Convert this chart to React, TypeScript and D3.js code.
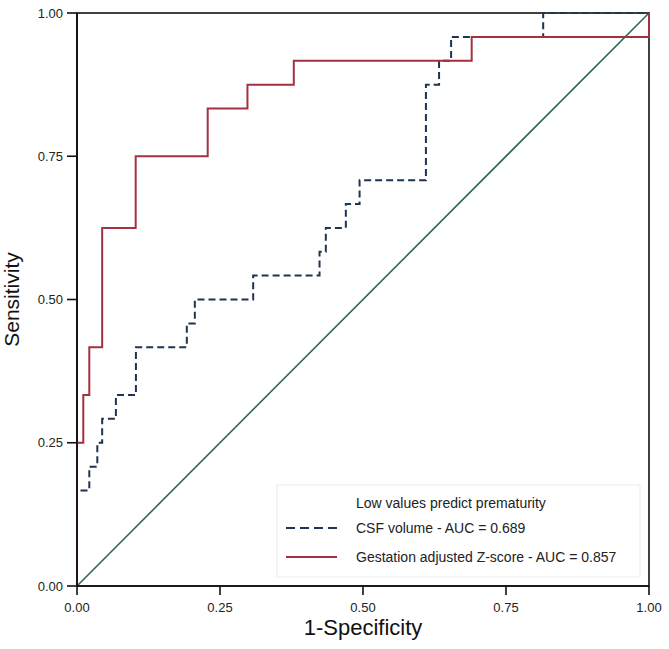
import React from "react";
import * as d3 from "d3";

const tickValues = [0, 0.25, 0.5, 0.75, 1];
const tickLabels = ["0.00", "0.25", "0.50", "0.75", "1.00"];

// ROC corner points (step-after): CSF volume
const csfFpr = [0, 0, 0.0215, 0.0355, 0.044, 0.068, 0.103, 0.192, 0.206, 0.308, 0.424, 0.435, 0.47, 0.494, 0.61, 0.633, 0.654, 0.815, 1];
const csfTpr = [0, 0.1667, 0.2083, 0.25, 0.2917, 0.3333, 0.4167, 0.4583, 0.5, 0.5417, 0.5833, 0.625, 0.6667, 0.7083, 0.875, 0.9167, 0.9583, 1, 1];

// Gestation adjusted Z-score
const gzFpr = [0, 0, 0.011, 0.0215, 0.044, 0.1026, 0.2285, 0.298, 0.379, 0.69, 1];
const gzTpr = [0, 0.25, 0.3333, 0.4167, 0.625, 0.75, 0.8333, 0.875, 0.9167, 0.9583, 1];

const legendTitle = "Low values predict prematurity";
const seriesNames = ["CSF volume - AUC = 0.689", "Gestation adjusted Z-score - AUC = 0.857"];

export default function App() {
  const W = 669, H = 649;
  const left = 77, right = 649, top = 13, bottom = 586;
  const x = d3.scaleLinear().domain([0, 1]).range([left, right]);
  const y = d3.scaleLinear().domain([0, 1]).range([bottom, top]);
  const line = d3
    .line<[number, number]>()
    .x((d) => x(d[0]))
    .y((d) => y(d[1]))
    .curve(d3.curveStepAfter);
  const csf: [number, number][] = csfFpr.map((v, i) => [v, csfTpr[i]]);
  const gz: [number, number][] = gzFpr.map((v, i) => [v, gzTpr[i]]);
  const font = "'Liberation Sans', Arial, sans-serif";
  const red = "#a3323e";
  const navy = "#1c3553";
  const green = "#2c6a4f";

  return (
    <svg width={W} height={H} style={{ position: "absolute", left: 0, top: 0, background: "#fff" }} fontFamily={font}>
      <rect x={0} y={0} width={W} height={H} fill="#fff" />
      {/* diagonal */}
      <line x1={x(0)} y1={y(0)} x2={x(1)} y2={y(1)} stroke={green} strokeWidth={1.6} />
      {/* frame */}
      <rect x={left} y={top} width={right - left} height={bottom - top} fill="none" stroke="#111" strokeWidth={1.6} />
      {/* curves */}
      <path d={line(csf) || ""} fill="none" stroke={navy} strokeWidth={2} strokeDasharray="7,4" />
      <path d={line(gz) || ""} fill="none" stroke={red} strokeWidth={2} />
      {/* left and bottom axis lines over curves */}
      <line x1={left} x2={left} y1={top} y2={bottom} stroke="#111" strokeWidth={1.8} />
      <line x1={left} x2={right} y1={bottom} y2={bottom} stroke="#111" strokeWidth={1.6} />
      {/* y ticks */}
      {tickValues.map((v, i) => (
        <g key={"y" + i}>
          <line x1={left - 10} x2={left} y1={y(v)} y2={y(v)} stroke="#111" strokeWidth={1.6} />
          <text x={left - 14} y={y(v)} dy="0.35em" textAnchor="end" fontSize={13} fill="#222">
            {tickLabels[i]}
          </text>
        </g>
      ))}
      {/* x ticks */}
      {tickValues.map((v, i) => (
        <g key={"x" + i}>
          <line x1={x(v)} x2={x(v)} y1={bottom} y2={bottom + 9} stroke="#111" strokeWidth={1.6} />
          <text x={x(v)} y={bottom + 26} textAnchor="middle" fontSize={13} fill="#222">
            {tickLabels[i]}
          </text>
        </g>
      ))}
      {/* axis titles */}
      <text x={(left + right) / 2} y={635} textAnchor="middle" fontSize={22} fill="#111">
        1-Specificity
      </text>
      <text transform={`translate(19, ${(top + bottom) / 2}) rotate(-90)`} textAnchor="middle" fontSize={21} fill="#111">
        Sensitivity
      </text>
      {/* legend */}
      <rect x={277} y={485} width={363} height={92} fill="#fff" stroke="#ececec" strokeWidth={1} />
      <text x={356} y={508} fontSize={14} fill="#222">{legendTitle}</text>
      <line x1={286} x2={337} y1={528} y2={528} stroke={navy} strokeWidth={2} strokeDasharray="9,5" />
      <text x={356} y={533} fontSize={14} fill="#222">{seriesNames[0]}</text>
      <line x1={286} x2={337} y1={557} y2={557} stroke={red} strokeWidth={2} />
      <text x={356} y={562} fontSize={14} fill="#222">{seriesNames[1]}</text>
    </svg>
  );
}
